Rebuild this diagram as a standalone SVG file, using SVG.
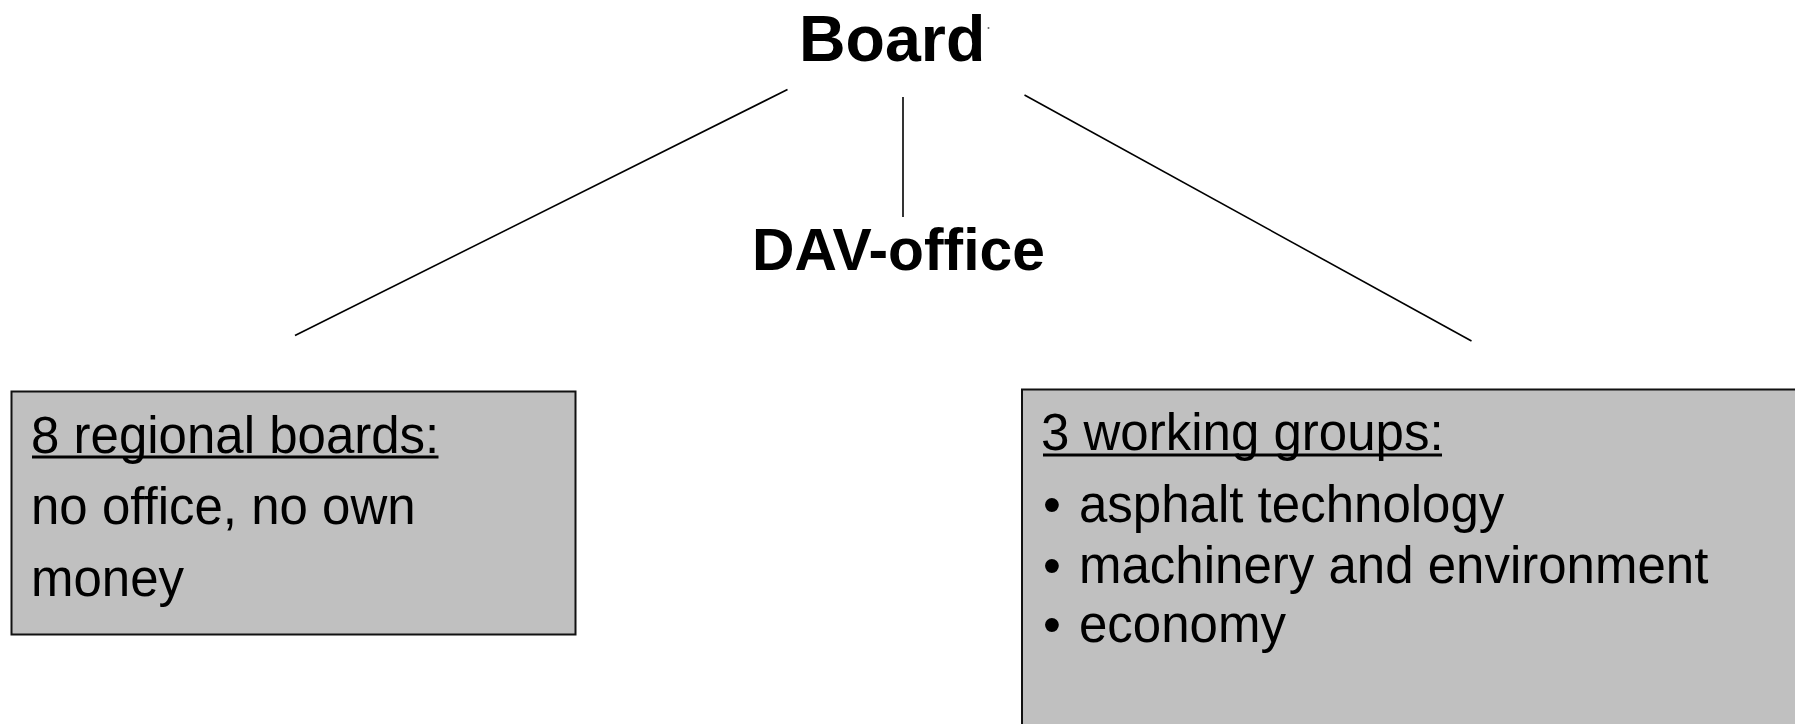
<svg xmlns="http://www.w3.org/2000/svg" width="1795" height="724" viewBox="0 0 1795 724">
  <style>
    .title { font-family: "Liberation Sans", Arial, sans-serif; font-weight: bold; fill: #000; }
    .body { font-family: "Liberation Sans", Arial, sans-serif; font-size: 51px; fill: #000; }
    .box { fill: #c0c0c0; stroke: #111; stroke-width: 2; }
    .conn { stroke: #000; stroke-width: 1.6; fill: none; }
    .ul { stroke: #000; stroke-width: 3; }
  </style>
  <rect width="1795" height="724" fill="#fff"/>
  <g id="connectors">
    <line class="conn" x1="295" y1="335.5" x2="787.5" y2="89.5"/>
    <line class="conn" x1="903" y1="97" x2="903" y2="217"/>
    <line class="conn" x1="1024.5" y1="95" x2="1471.5" y2="341"/>
  </g>
  <g id="board">
    <text class="title" x="799" y="61" font-size="64.5">Board</text>
    <circle cx="988.5" cy="28" r="1" fill="#666"/>
  </g>
  <g id="dav-office">
    <text class="title" x="752" y="270" font-size="58.8">DAV-office</text>
  </g>
  <g id="regional-boards">
    <rect class="box" x="11.5" y="391.5" width="564" height="243"/>
    <text class="body" x="31" y="453">8 regional boards:</text>
    <line class="ul" x1="32" y1="457" x2="438.5" y2="457"/>
    <text class="body" x="31" y="524">no office, no own</text>
    <text class="body" x="31" y="596">money</text>
  </g>
  <g id="working-groups">
    <rect class="box" x="1022" y="389.5" width="800" height="400"/>
    <text class="body" x="1041" y="450">3 working groups:</text>
    <line class="ul" x1="1043" y1="455" x2="1442" y2="455"/>
    <text class="body" x="1043" y="522">•</text>
    <text class="body" x="1079" y="522">asphalt technology</text>
    <text class="body" x="1043" y="583">•</text>
    <text class="body" x="1079" y="583">machinery and environment</text>
    <text class="body" x="1043" y="642">•</text>
    <text class="body" x="1079" y="642">economy</text>
  </g>
</svg>
